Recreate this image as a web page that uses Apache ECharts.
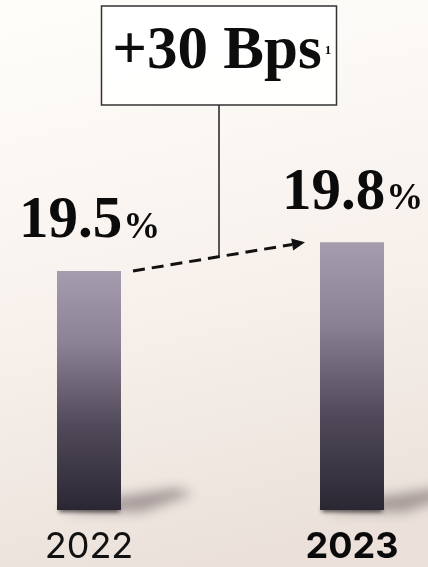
<!DOCTYPE html>
<html>
<head>
<meta charset="utf-8">
<script src="https://cdn.jsdelivr.net/npm/echarts@6/dist/echarts.min.js"></script>
<style>
  html, body { margin: 0; padding: 0; }
  #chart { width: 428px; height: 567px; }
</style>
</head>
<body>
<div id="chart"></div>
<script>
// Years and margin values
const years = ['2022', '2023'];
const marginPct = [19.5, 19.8];
const changeLabel = '+30 Bps';
const changeNote = '1';
const axisMin = 17;
const axisMax = 22;

const chart = echarts.init(document.getElementById('chart'), null, { renderer: 'canvas' });

const serif = '"Liberation Serif", "DejaVu Serif", serif';
const sans = 'Inter, "Open Sans", sans-serif';
const barW = 64;

// text measuring helper, used to line up mixed-size labels on a common baseline
const measureCtx = document.createElement('canvas').getContext('2d');
function textWidth(str, size) {
  measureCtx.font = 'bold ' + size + 'px ' + serif;
  return measureCtx.measureText(str).width;
}
// canvas "middle" sits about 0.3375em above the alphabetic baseline for this face
const MID_TO_BASE = 0.3375;

// soft cast shadow at the foot of each bar
function renderFootShadow(params, api) {
  const i = api.value(0);
  const base = api.coord([i, axisMin]);
  const half = barW / 2;
  const off = 3000;
  const x = base[0], y = base[1];
  return {
    type: 'group',
    children: [
      {
        type: 'polygon',
        shape: { points: [
          [x - half + 6 - off, y + 2],
          [x + half - off, y - 14],
          [x + half + 55 - off, y - 22],
          [x + half + 72 - off, y - 16],
          [x + half + 22 - off, y + 2]
        ] },
        style: { fill: '#000', shadowBlur: 12, shadowColor: 'rgba(70,55,60,0.42)', shadowOffsetX: off }
      },
      {
        type: 'rect',
        shape: { x: x - half + 2 - off, y: y - 3, width: half * 2 - 4, height: 5 },
        style: { fill: '#000', shadowBlur: 4, shadowColor: 'rgba(20,15,20,0.7)', shadowOffsetX: off }
      }
    ]
  };
}

// value label above each bar: large number with a smaller percent sign on the same baseline
function renderValueLabel(params, api) {
  const v = api.value(1);
  const top = api.coord([api.value(0), v]);
  const num = v.toFixed(1);
  const nSize = 59, pSize = 37;
  const wn = textWidth(num, nSize), wp = textWidth('%', pSize);
  const left = top[0] - (wn + wp) / 2;
  const baseline = top[1] - 29;
  return {
    type: 'group',
    children: [
      {
        type: 'text',
        x: left, y: baseline - nSize * MID_TO_BASE,
        style: { text: num, font: 'bold ' + nSize + 'px ' + serif, fill: '#0b0b0b', align: 'left', verticalAlign: 'middle' }
      },
      {
        type: 'text',
        x: left + wn + 1, y: baseline - 1 - pSize * MID_TO_BASE,
        style: { text: '%', font: 'bold ' + pSize + 'px ' + serif, fill: '#0b0b0b', align: 'left', verticalAlign: 'middle' }
      }
    ]
  };
}

// dashed arrow between the two bar tops, plus the callout box above it
function renderChange(params, api) {
  const p1 = api.coord([api.value(0), api.value(1)]);
  const p2 = api.coord([api.value(2), api.value(3)]);
  const sx = p1[0] + 44, sy = p1[1];
  const ex = p2[0] - 47, ey = p2[1];
  const ang = Math.atan2(ey - sy, ex - sx);
  const headLen = 13, headW = 6;
  const bx = ex - headLen * Math.cos(ang), by = ey - headLen * Math.sin(ang);
  const nx = -Math.sin(ang), ny = Math.cos(ang);
  const mx = (sx + ex) / 2, my = (sy + ey) / 2;
  const boxW = 235, boxTop = 6, boxH = 99;
  const mSize = 61, sSize = 13;
  const mw = textWidth(changeLabel, mSize);
  const tcx = mx - 2;
  const mBase = 73;
  return {
    type: 'group',
    children: [
      {
        type: 'line',
        shape: { x1: sx, y1: sy, x2: bx, y2: by },
        style: { stroke: '#111', lineWidth: 3, lineDash: [12, 7] }
      },
      {
        type: 'polygon',
        shape: { points: [[ex, ey], [bx + nx * headW, by + ny * headW], [bx - nx * headW, by - ny * headW]] },
        style: { fill: '#111' }
      },
      {
        type: 'line',
        shape: { x1: mx, y1: boxTop + boxH, x2: mx, y2: my },
        style: { stroke: '#222', lineWidth: 1.5 }
      },
      {
        type: 'rect',
        shape: { x: mx - boxW / 2, y: boxTop, width: boxW, height: boxH },
        style: { fill: 'rgba(255,255,255,0.9)', stroke: '#333', lineWidth: 1.5 }
      },
      {
        type: 'text',
        x: tcx, y: mBase - mSize * MID_TO_BASE,
        style: { text: changeLabel, font: 'bold ' + mSize + 'px ' + serif, fill: '#0d0d0d', align: 'center', verticalAlign: 'middle' }
      },
      {
        type: 'text',
        x: tcx + mw / 2 + 3, y: mBase - 18 - sSize * MID_TO_BASE,
        style: { text: changeNote, font: 'bold ' + sSize + 'px ' + serif, fill: '#0d0d0d', align: 'left', verticalAlign: 'middle' }
      }
    ]
  };
}

const option = {
  animation: false,
  backgroundColor: new echarts.graphic.LinearGradient(0.2, 0, 0.5, 1, [
    { offset: 0, color: '#fefdfa' },
    { offset: 0.45, color: '#f9f3ef' },
    { offset: 1, color: '#ebe1da' }
  ]),
  grid: { left: 89, right: 76, top: 32, bottom: 57 },
  xAxis: {
    type: 'category',
    data: years,
    boundaryGap: false,
    axisLine: { show: false },
    axisTick: { show: false },
    axisLabel: {
      margin: 17,
      formatter: function (v, idx) {
        return idx === years.length - 1 ? '{b|' + v + '}' : '{r|' + v + '}';
      },
      rich: {
        r: { fontFamily: sans, fontWeight: 'normal', fontSize: 36, lineHeight: 40, color: '#111' },
        b: { fontFamily: sans, fontWeight: 'bold', fontSize: 36, lineHeight: 40, color: '#0a0a0a' }
      }
    }
  },
  yAxis: {
    type: 'value',
    min: axisMin,
    max: axisMax,
    show: false,
    splitLine: { show: false }
  },
  series: [
    {
      type: 'custom',
      z: 1,
      data: years.map((y, i) => [i, marginPct[i]]),
      renderItem: renderFootShadow
    },
    {
      type: 'bar',
      z: 2,
      barWidth: barW,
      data: marginPct,
      itemStyle: {
        color: new echarts.graphic.LinearGradient(0, 0, 0, 1, [
          { offset: 0, color: '#a59cae' },
          { offset: 0.3, color: '#8b8295' },
          { offset: 0.65, color: '#504959' },
          { offset: 1, color: '#2a2733' }
        ])
      }
    },
    {
      type: 'custom',
      z: 3,
      data: years.map((y, i) => [i, marginPct[i]]),
      renderItem: renderValueLabel
    },
    {
      type: 'custom',
      z: 3,
      data: [[0, marginPct[0], 1, marginPct[1]]],
      renderItem: renderChange
    }
  ]
};

chart.setOption(option);
</script>
</body>
</html>
